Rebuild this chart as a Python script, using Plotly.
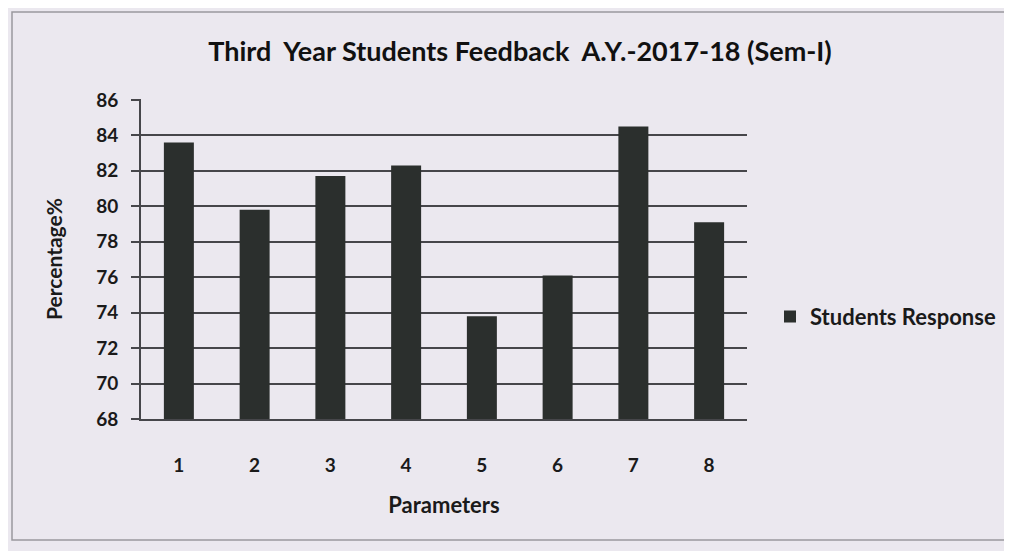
import plotly.graph_objects as go

parameters = ["1", "2", "3", "4", "5", "6", "7", "8"]
students_response = [83.6, 79.8, 81.7, 82.3, 73.8, 76.1, 84.5, 79.1]
y_ticks = [68, 70, 72, 74, 76, 78, 80, 82, 84, 86]

BG = "#ebe8ef"
BAR = "#2b2f2d"
GRID = "#46464a"
FONT = "Lato"

L, T, PW, PH = 133, 91, 606, 320
W, H = 1012, 551

fig = go.Figure()
fig.add_trace(go.Bar(
    x=parameters, y=students_response, name="Students Response",
    marker=dict(color=BAR, line=dict(width=0)),
    showlegend=True,
))

fig.update_layout(
    width=W, height=H,
    paper_bgcolor=BG, plot_bgcolor=BG,
    margin=dict(l=L, r=W - L - PW, t=T, b=H - T - PH),
    bargap=0.604,
    font=dict(family=FONT, color="#1a1a1a", size=18),
    title=dict(text="Third  Year Students Feedback  A.Y.-2017-18 (Sem-I)",
               x=512 / W, xanchor="center", y=1 - 44 / H, yanchor="middle",
               font=dict(size=27, family=FONT, color="#111", weight="bold")),
    showlegend=True,
    legend=dict(x=(762 - L) / PW, xanchor="left", y=0.32, yanchor="middle",
                bgcolor="rgba(0,0,0,0)",
                font=dict(size=22, family=FONT, weight="bold"),
                itemwidth=30),
    xaxis=dict(
        type="category",
        title=dict(text="Parameters", font=dict(size=22, weight="bold"), standoff=23),
        tickfont=dict(size=19, weight="bold"),
        showgrid=False, showline=True, linecolor=GRID, linewidth=2,
        ticks="", ticklabelstandoff=28,
    ),
    yaxis=dict(
        range=[68, 86.05], tickvals=y_ticks,
        title=dict(text="Percentage%", font=dict(size=21, weight="bold"), standoff=28),
        tickfont=dict(size=19, weight="bold"),
        showgrid=True, gridcolor=GRID, gridwidth=2,
        showline=True, linecolor=GRID, linewidth=2,
        ticks="outside", ticklen=8, tickcolor=GRID, tickwidth=2,
        ticklabelstandoff=9,
        zeroline=False,
    ),
)

fig.add_shape(type="rect", xref="paper", yref="paper",
              x0=(4 - L) / PW, x1=(997 - L) / PW,
              y0=(T + PH - 532) / PH, y1=(T + PH - 4) / PH,
              line=dict(color="#9a989e", width=1.5), fillcolor="rgba(0,0,0,0)",
              layer="below")

fig.write_html("out.html")
